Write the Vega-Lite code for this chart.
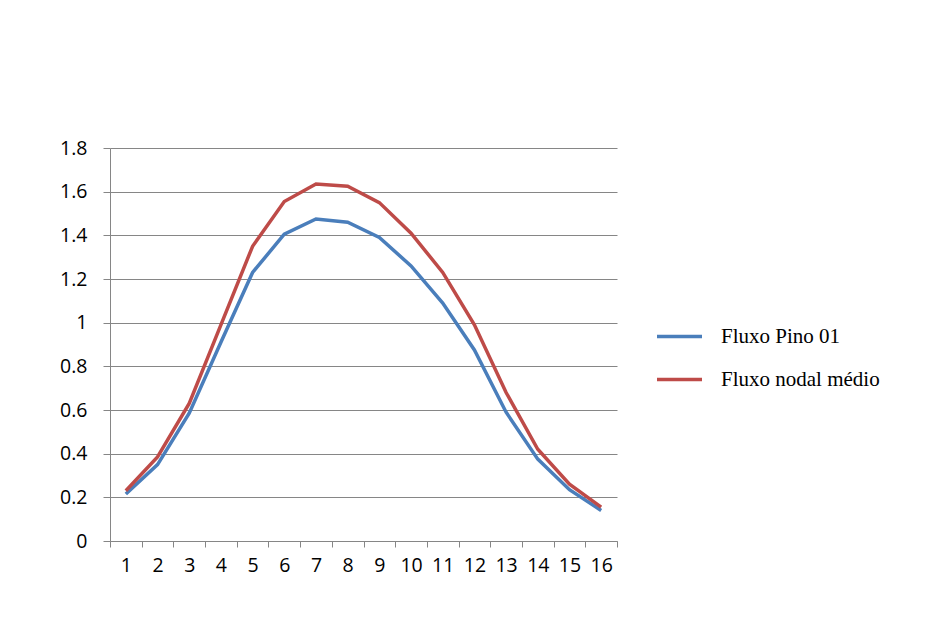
{
  "$schema": "https://vega.github.io/schema/vega-lite/v6.json",
  "width": 507,
  "height": 393,
  "autosize": {"type": "none"},
  "padding": {"left": 110, "top": 148, "right": 320, "bottom": 101},
  "background": "white",
  "data": {
    "values": [
      {"x": 1, "s": "Fluxo Pino 01", "v": 0.215},
      {"x": 2, "s": "Fluxo Pino 01", "v": 0.35},
      {"x": 3, "s": "Fluxo Pino 01", "v": 0.585},
      {"x": 4, "s": "Fluxo Pino 01", "v": 0.91},
      {"x": 5, "s": "Fluxo Pino 01", "v": 1.23},
      {"x": 6, "s": "Fluxo Pino 01", "v": 1.405},
      {"x": 7, "s": "Fluxo Pino 01", "v": 1.475},
      {"x": 8, "s": "Fluxo Pino 01", "v": 1.46},
      {"x": 9, "s": "Fluxo Pino 01", "v": 1.39},
      {"x": 10, "s": "Fluxo Pino 01", "v": 1.26},
      {"x": 11, "s": "Fluxo Pino 01", "v": 1.09},
      {"x": 12, "s": "Fluxo Pino 01", "v": 0.875},
      {"x": 13, "s": "Fluxo Pino 01", "v": 0.59},
      {"x": 14, "s": "Fluxo Pino 01", "v": 0.375},
      {"x": 15, "s": "Fluxo Pino 01", "v": 0.235},
      {"x": 16, "s": "Fluxo Pino 01", "v": 0.14},
      {"x": 1, "s": "Fluxo nodal médio", "v": 0.23},
      {"x": 2, "s": "Fluxo nodal médio", "v": 0.385},
      {"x": 3, "s": "Fluxo nodal médio", "v": 0.63},
      {"x": 4, "s": "Fluxo nodal médio", "v": 0.99},
      {"x": 5, "s": "Fluxo nodal médio", "v": 1.35},
      {"x": 6, "s": "Fluxo nodal médio", "v": 1.555},
      {"x": 7, "s": "Fluxo nodal médio", "v": 1.635},
      {"x": 8, "s": "Fluxo nodal médio", "v": 1.625},
      {"x": 9, "s": "Fluxo nodal médio", "v": 1.55},
      {"x": 10, "s": "Fluxo nodal médio", "v": 1.41},
      {"x": 11, "s": "Fluxo nodal médio", "v": 1.23},
      {"x": 12, "s": "Fluxo nodal médio", "v": 0.99},
      {"x": 13, "s": "Fluxo nodal médio", "v": 0.68},
      {"x": 14, "s": "Fluxo nodal médio", "v": 0.42},
      {"x": 15, "s": "Fluxo nodal médio", "v": 0.26},
      {"x": 16, "s": "Fluxo nodal médio", "v": 0.155}
    ]
  },
  "mark": {"type": "line", "strokeWidth": 3.5, "strokeCap": "butt", "strokeJoin": "miter"},
  "encoding": {
    "x": {
      "field": "x",
      "type": "ordinal",
      "scale": {"type": "band", "paddingInner": 0, "paddingOuter": 0},
      "axis": {
        "title": null,
        "labelAngle": 0,
        "grid": false,
        "tickBand": "extent",
        "tickSize": 6,
        "tickColor": "#868686",
        "domainColor": "#868686",
        "labelFont": "Open Sans",
        "labelFontSize": 19.5,
        "labelColor": "#000000",
        "labelPadding": 9
      }
    },
    "y": {
      "field": "v",
      "type": "quantitative",
      "scale": {"domain": [0, 1.8], "nice": false, "zero": true},
      "axis": {
        "title": null,
        "values": [0, 0.2, 0.4, 0.6, 0.8, 1, 1.2, 1.4, 1.6, 1.8],
        "format": ".1~f",
        "grid": true,
        "gridColor": "#868686",
        "gridWidth": 1,
        "tickSize": 7,
        "tickColor": "#868686",
        "domainColor": "#868686",
        "labelFont": "Open Sans",
        "labelFontSize": 19.5,
        "labelColor": "#000000",
        "labelPadding": 16
      }
    },
    "color": {
      "field": "s",
      "type": "nominal",
      "sort": ["Fluxo Pino 01", "Fluxo nodal médio"],
      "scale": {"domain": ["Fluxo Pino 01", "Fluxo nodal médio"], "range": ["#4A7EBB", "#BE4B48"]},
      "legend": {
        "title": null,
        "orient": "none",
        "legendX": 545,
        "legendY": 164,
        "padding": 0,
        "symbolType": "stroke",
        "symbolSize": 2025,
        "symbolStrokeWidth": 3.5,
        "labelFont": "Liberation Serif",
        "labelFontSize": 21,
        "labelColor": "#000000",
        "labelOffset": 17,
        "rowPadding": 8,
        "labelLimit": 400
      }
    }
  },
  "config": {
    "view": {"stroke": null}
  }
}
